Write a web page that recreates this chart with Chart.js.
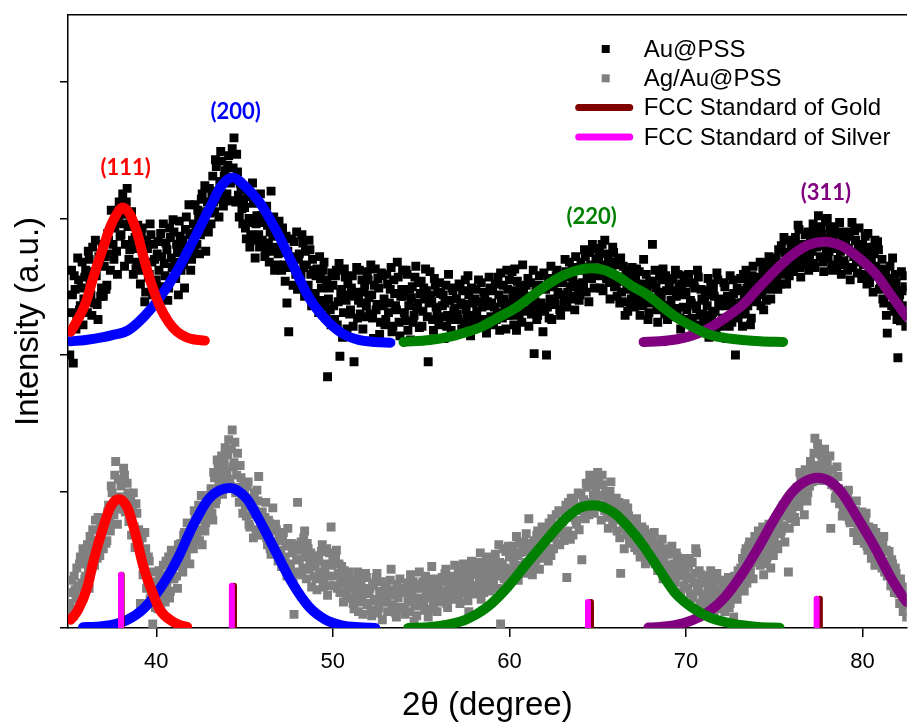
<!DOCTYPE html>
<html>
<head>
<meta charset="utf-8">
<title>XRD patterns of Au@PSS and Ag/Au@PSS</title>
<script src="https://cdn.jsdelivr.net/npm/chart.js@4.4.1/dist/chart.umd.min.js"></script>
<style>
  html, body { margin: 0; padding: 0; background: #ffffff; }
  canvas { display: block; }
</style>
</head>
<body>
<canvas id="xrd" width="913" height="726"></canvas>
<script>
// 2θ sampling of both diffractograms (degrees)
const thetaStart = 35.1;
const thetaStep = 0.05;

// Au@PSS intensity, one row per degree (a.u.)
const auPss = [
  200,231, 262,244, 194,258, 248,219, 226,271, 255,233, 236,249, 268,222, 241,257,
  262,240, 231,276, 270,253, 244,229, 279,261, 238,284, 258,237, 226,272, 266,243, 249,281,
  243,265, 272,248, 251,289, 284,274, 262,306, 295,281, 270,293, 301,276, 259,297, 312,287,
  288,303, 318,296, 265,281, 312,322, 294,270, 277,299, 305,284, 259,278, 286,263, 268,295,
  281,262, 252,287, 293,274, 266,239, 246,284, 278,257, 259,296, 288,268, 244,281, 270,251,
  255,274, 283,262, 241,289, 272,250, 296,267, 258,282, 277,240, 249,293, 286,271, 264,299,
  290,268, 256,281, 275,244, 298,287, 262,279, 284,266, 249,292, 301,276, 273,310, 288,262,
  270,289, 296,275, 310,293, 281,306, 302,274, 288,314, 318,291, 297,324, 276,305, 312,290,
  322,304, 296,318, 331,312, 305,343, 338,320, 314,301, 327,349, 342,318, 309,331, 335,313,
  318,339, 346,329, 326,313, 351,337, 359,328, 312,347, 334,317, 301,326, 322,307, 296,314,
  308,293, 285,321, 316,300, 279,288, 297,326, 311,284, 271,296, 302,313, 288,279, 318,302,
  284,297, 301,272, 276,309, 295,282, 268,290, 320,276, 287,301, 262,279, 291,266, 274,298,
  289,275, 262,293, 281,266, 254,287, 238,276, 217,264, 272,285, 267,251, 283,271, 259,290,
  248,270, 274,255, 259,288, 282,264, 243,276, 266,246, 251,284, 277,259, 236,270, 262,245,
  244,258, 263,238, 231,272, 256,249, 240,262, 268,235, 228,255, 184,241, 249,233, 222,260,
  251,236, 226,258, 262,222, 239,267, 199,245, 248,213, 231,263, 257,240, 219,252, 244,230,
  233,249, 258,221, 195,243, 246,264, 227,240, 262,230, 238,255, 219,246, 251,228, 236,261,
  255,242, 230,266, 244,227, 212,251, 263,233, 237,256, 249,215, 224,260, 258,236, 241,222,
  226,259, 252,231, 238,248, 264,217, 221,255, 245,236, 233,268, 257,224, 214,243, 248,262,
  243,231, 225,262, 259,218, 236,248, 211,242, 250,224, 229,257, 265,234, 238,253, 220,245,
  254,221, 232,249, 241,263, 247,228, 195,238, 261,244, 239,226, 218,256, 251,235, 230,246,
  222,253, 245,228, 236,244, 212,238, 251,221, 229,259, 240,226, 218,249, 247,232, 234,215,
  241,230, 226,252, 250,238, 219,247, 237,224, 255,233, 228,258, 244,221, 214,249, 238,226,
  229,241, 248,232, 221,255, 239,225, 253,235, 226,246, 243,220, 216,239, 236,257, 249,228,
  238,247, 222,235, 252,226, 231,257, 244,218, 260,238, 227,251, 241,232, 219,262, 248,229,
  255,238, 229,261, 242,222, 263,247, 218,254, 236,229, 250,241, 224,266, 246,232, 233,251,
  240,256, 221,243, 253,230, 236,262, 201,239, 247,226, 229,251, 258,234, 238,249, 217,260,
  232,248, 200,235, 256,227, 241,265, 226,253, 250,239, 237,258, 262,246, 244,233, 229,255,
  253,244, 238,270, 261,235, 246,257, 268,250, 241,263, 255,243, 233,272, 264,252, 249,240,
  244,268, 262,253, 251,277, 272,246, 257,264, 239,275, 266,256, 281,262, 249,278, 270,259,
  258,271, 276,249, 263,281, 247,266, 284,260, 256,274, 270,253, 241,268, 262,279, 275,250,
  266,252, 243,269, 257,238, 271,246, 239,265, 254,229, 262,248, 232,258, 250,237, 241,264,
  258,244, 235,256, 263,240, 246,261, 229,249, 252,236, 270,243, 238,259, 247,226, 231,254,
  252,239, 281,254, 238,262, 249,233, 224,246, 258,240, 241,255, 263,236, 230,258, 247,226,
  236,249, 255,240, 228,256, 247,234, 262,243, 233,259, 250,227, 219,252, 244,235, 258,246,
  246,233, 226,259, 253,240, 238,227, 218,252, 249,236, 234,262, 257,222, 229,248, 241,230,
  223,240, 247,229, 236,256, 213,244, 252,225, 231,249, 243,232, 219,260, 255,238, 236,221,
  241,225, 227,253, 250,236, 212,243, 237,221, 258,239, 224,255, 245,231, 200,238, 249,227,
  232,247, 256,238, 221,259, 244,230, 262,249, 236,255, 251,222, 227,258, 265,240, 243,252,
  239,253, 257,244, 268,236, 246,262, 233,255, 261,240, 250,267, 272,248, 241,264, 258,251,
  254,265, 271,257, 248,277, 266,252, 280,268, 259,286, 275,262, 252,274, 284,258, 263,279,
  278,266, 261,283, 286,272, 269,295, 292,264, 257,279, 281,268, 273,288, 266,280, 290,262,
  270,283, 285,276, 296,267, 264,291, 279,287, 302,280, 272,294, 288,268, 261,285, 298,277,
  300,271, 276,293, 289,266, 262,285, 294,278, 281,265, 270,290, 297,276, 259,288, 284,269,
  266,283, 290,262, 278,287, 255,275, 297,264, 272,291, 284,269, 260,281, 293,277, 268,256,
  281,266, 259,287, 275,252, 289,271, 253,279, 270,258, 246,274, 284,265, 262,283, 277,248,
  249,263, 270,241, 238,257, 262,229, 216,251, 256,265, 244,236, 271,247, 232,259, 253,226,
  198,239, 244,225, 261,247, 229,258, 250,221, 236
];

// Ag/Au@PSS intensity, same 2θ grid (a.u.)
const agAuPss = [
  18,26, 35,14, 9,38, 28,22, 44,31, 21,47, 52,29, 33,58, 47,36,
  38,52, 61,41, 29,67, 55,44, 72,58, 46,79, 64,51, 81,62, 53,75, 70,59,
  58,73, 79,62, 64,85, 90,77, 71,104, 99,87, 83,112, 122,94, 76,109, 96,88,
  104,96, 87,117, 112,85, 92,106, 99,78, 81,93, 68,88, 99,74, 59,91, 84,66,
  72,61, 18,53, 66,39, 44,70, 58,29, 35,52, 49,21, 27,41, 3,34, 22,15,
  31,24, 14,42, 38,17, 25,35, 46,28, 19,49, 33,39, 52,22, 27,57, 44,36,
  36,50, 55,38, 29,61, 48,57, 62,45, 41,68, 70,51, 53,77, 66,58, 47,73,
  74,63, 58,86, 81,70, 66,79, 90,64, 72,97, 61,83, 85,71, 77,92, 95,80,
  88,97, 102,84, 79,114, 110,91, 94,123, 118,105, 101,114, 126,98, 108,121, 132,113,
  115,127, 138,109, 104,131, 145,118, 121,136, 99,112, 128,103, 92,119, 110,96, 84,105,
  98,89, 82,104, 107,76, 74,95, 91,83, 66,99, 86,72, 101,93, 111,84, 79,68,
  85,74, 68,81, 92,66, 61,79, 77,58, 54,71, 88,60, 63,76, 72,57, 49,67,
  64,56, 45,67, 70,48, 52,60, 38,73, 61,43, 47,62, 55,36, 10,58, 41,50,
  92,61, 50,57, 63,39, 44,66, 71,52, 36,62, 58,43, 48,55, 30,47, 53,38,
  45,36, 28,49, 52,41, 39,56, 61,30, 33,44, 47,58, 24,38, 55,31, 74,46,
  49,38, 31,52, 57,29, 40,47, 26,35, 45,33, 19,42, 36,24, 28,37, 41,22,
  22,30, 35,18, 14,33, 28,23, 41,12, 19,36, 31,21, 10,29, 26,40, 37,17,
  18,25, 29,13, 9,31, 33,20, 21,37, 40,11, 15,26, 27,34, 6,19, 24,30,
  31,19, 12,27, 25,35, 43,16, 17,24, 28,11, 8,32, 22,29, 36,15, 14,26,
  26,15, 10,28, 33,21, 19,12, 39,27, 23,34, 5,18, 29,9, 16,32, 41,22,
  21,29, 34,17, 13,38, 27,22, 8,33, 31,14, 45,26, 18,36, 25,20, 12,31,
  30,23, 19,34, 37,27, 24,40, 43,18, 15,32, 28,38, 35,21, 22,33, 46,26,
  27,36, 41,22, 18,39, 33,28, 47,35, 26,42, 38,20, 12,34, 31,49, 44,25,
  39,31, 25,44, 48,29, 34,55, 21,38, 43,26, 30,47, 52,35, 36,42, 27,50,
  45,37, 33,51, 54,42, 38,29, 61,48, 3,40, 47,58, 36,44, 56,35, 42,60,
  52,43, 38,57, 60,49, 44,36, 67,53, 35,62, 55,46, 41,58, 63,40, 48,69,
  45,56, 80,49, 58,62, 39,53, 64,44, 50,68, 71,55, 43,61, 57,74, 66,51,
  55,64, 72,58, 49,77, 66,53, 80,70, 58,67, 74,83, 62,71, 86,61, 69,78,
  78,70, 64,85, 90,37, 71,92, 83,65, 95,81, 68,93, 88,79, 76,87, 99,72,
  86,98, 50,89, 94,82, 80,106, 103,90, 83,112, 92,88, 110,97, 84,105, 101,93,
  114,108, 90,97, 79,112, 105,88, 86,99, 95,81, 73,94, 100,107, 82,76, 91,89,
  84,95, 71,79, 92,66, 40,86, 80,73, 58,91, 74,68, 88,82, 62,78, 76,70,
  71,64, 59,76, 80,57, 66,70, 52,63, 74,58, 61,72, 47,66, 69,51, 55,62,
  63,54, 49,66, 70,47, 56,60, 42,53, 61,44, 50,65, 36,52, 58,41, 45,57,
  54,46, 40,57, 60,43, 47,36, 33,55, 52,42, 38,49, 26,39, 45,51, 31,40,
  44,37, 29,46, 51,25, 36,48, 22,33, 40,58, 55,27, 31,42, 18,39, 34,24,
  25,33, 38,22, 16,29, 30,37, 42,24, 20,31, 9,19, 27,40, 35,21, 14,28,
  22,28, 31,17, 12,35, 26,24, 37,15, 18,30, 29,23, 8,38, 33,26, 21,42,
  35,40, 44,31, 51,46, 27,55, 58,33, 39,60, 63,42, 48,54, 36,61, 67,49,
  55,63, 71,50, 46,58, 62,74, 39,56, 68,47, 52,65, 76,59, 44,70, 60,53,
  66,72, 79,61, 58,77, 84,69, 71,88, 90,75, 63,82, 86,94, 41,73, 80,87,
  85,92, 96,81, 78,100, 103,95, 89,114, 110,98, 94,104, 83,116, 106,93, 99,112,
  104,122, 118,107, 110,128, 139,116, 112,135, 131,119, 108,127, 125,113, 120,131, 114,109,
  122,113, 108,126, 73,105, 116,109, 104,95, 97,118, 111,102, 91,94, 100,82, 86,97,
  95,88, 82,97, 101,79, 77,92, 90,84, 70,78, 86,93, 64,73, 81,68, 74,85,
  76,68, 62,79, 84,60, 57,74, 69,63, 51,66, 73,58, 46,70, 65,52, 55,61,
  60,52, 44,63, 67,41, 49,57, 38,46, 56,42, 31,50, 47,35, 26,44, 40,30,
  33,25, 18,36, 29,21, 12,17, 24,30, 8
];

// Gaussian peak fits, [2θ, intensity]
const fitAu111 = [[35.15,217],[35.6,227],[36.0,238],[36.46,258],[37.0,279],[37.4,294],[37.75,303],[38.09,308],[38.5,303],[38.9,290],[39.27,272],[39.7,253],[40.22,235],[40.7,224],[41.18,217],[41.7,213],[42.08,211.5],[42.75,210.5]];
const fitAu200 = [[35.15,210],[36.0,211],[37.0,213],[37.5,214.5],[38.4,218],[39.3,228],[40.2,242],[41.2,262],[42.1,284],[43.0,307],[43.7,324],[44.33,330],[45.0,324],[45.84,312],[46.8,291],[47.7,267],[48.65,242],[49.6,226],[50.5,216],[51.46,211],[52.4,209.5],[53.26,209]];
const fitAu220 = [[54.0,209.5],[55.5,211],[56.5,213],[57.5,216.5],[58.4,220.5],[59.3,227],[60.3,234],[61.2,242.5],[62.1,251],[63.1,258.5],[64.0,262.5],[64.7,263.5],[65.4,262],[66.2,257],[67.0,250],[67.7,245],[68.5,237],[69.4,228],[70.4,220.5],[71.3,215],[72.2,212.5],[73.2,211],[74.2,210],[75.5,209.5]];
const fitAu311 = [[67.6,209.5],[68.5,210],[69.5,211.5],[70.4,214.5],[71.3,219.5],[72.2,227],[73.2,236.5],[74.1,249],[75.06,262],[76.0,273],[76.9,280.5],[77.87,283],[78.8,280],[79.7,272],[80.7,260],[81.6,244],[82.5,228],[83.2,216]];

const fitAgAu111 = [[35.15,6],[35.56,13],[36.1,30],[36.46,50],[37.0,74],[37.4,88.5],[37.87,94.5],[38.37,88],[38.8,70],[39.27,45],[39.8,25.5],[40.22,13],[40.96,4.5],[41.4,1.8],[41.75,0.8]];
const fitAgAu200 = [[35.85,0.5],[36.6,1],[37.4,2],[38.37,6],[39.27,14],[40.22,29],[41.18,50],[42.08,75],[43.0,95],[44.16,102.5],[45.1,95],[45.84,79],[46.8,55],[47.7,33],[48.65,15.5],[49.6,6],[50.5,2],[51.5,0.5],[52.4,0]];
const fitAgAu220 = [[54.27,0],[55.56,0.7],[56.5,2.5],[57.5,6],[58.76,15.5],[59.9,30],[61.0,47.5],[62.1,64.5],[63.1,79],[64.0,88],[64.8,90],[65.9,84.5],[66.8,73],[67.6,60],[68.5,42.5],[69.4,25.5],[70.4,14.5],[71.3,8],[72.2,4.4],[73.2,2],[74.1,0.7],[75.3,0.2]];
const fitAgAu311 = [[67.87,0.3],[68.5,0.7],[69.5,2.5],[70.4,6],[71.3,12],[72.2,22.5],[73.2,40],[74.1,59],[75.06,81],[76.0,99.5],[76.7,107],[77.45,110],[78.2,107],[78.8,99.5],[79.7,81],[80.7,59],[81.6,37],[82.5,19],[83.2,9]];

// FCC reference reflections (2θ and relative stick height)
const goldPeaks = [38.04, 44.40, 64.62, 77.58];
const goldHeights = [39, 31, 19, 21.5];
const silverPeaks = [38.0, 44.28, 64.45, 77.40];
const silverHeights = [39, 31, 19, 21.5];

// Miller indices written above the Au@PSS reflections
const peakLabels = ['(111)', '(200)', '(220)', '(311)'];
const peakColors = ['#ff0000', '#0000ff', '#008000', '#800080'];
const peakLabelAnchors = [[38.26, 337], [44.49, 378], [64.66, 301], [77.92, 319]];

// Axes
const xTicks = [40, 50, 60, 70, 80];
const yTicks = [0, 100, 200, 300, 400];
const xRange = [35, 82.5];
const yRange = [0, 449];

const SANS = '"Liberation Sans", Arial, Helvetica, sans-serif';
Chart.defaults.font.family = SANS;
Chart.defaults.color = '#000';

const toPoints = (values) => values.map((v, i) => ({ x: +(thetaStart + i * thetaStep).toFixed(2), y: v }));
const pairPoints = (pairs) => pairs.map(([x, y]) => ({ x, y }));
const stickPoints = (pos, h) => pos.flatMap((p, i) => [{ x: p, y: 0 }, { x: p, y: h[i] }, { x: p, y: null }]);

const scatterSet = (label, values, color) => ({
  label, data: toPoints(values), order: 3,
  pointStyle: 'rect', pointRadius: 6.3, pointBorderWidth: 0,
  backgroundColor: color, borderColor: color, showLine: false,
  legendKind: 'marker'
});
const fitSet = (pairs, color) => ({
  label: '', data: pairPoints(pairs), order: 2, showLine: true,
  pointRadius: 0, borderWidth: 10, borderColor: color, backgroundColor: color,
  cubicInterpolationMode: 'monotone', borderCapStyle: 'round', borderJoinStyle: 'round', fill: false
});
const stickSet = (label, pos, h, color, order) => ({
  label, data: stickPoints(pos, h), order, showLine: true, spanGaps: false,
  pointRadius: 0, borderWidth: 6, borderColor: color, backgroundColor: color,
  borderCapStyle: 'round', fill: false, legendKind: 'line'
});

const datasets = [
  scatterSet('Au@PSS', auPss, '#000000'),
  scatterSet('Ag/Au@PSS', agAuPss, '#808080'),
  stickSet('FCC Standard of Gold', goldPeaks, goldHeights, '#800000', 1),
  stickSet('FCC Standard of Silver', silverPeaks, silverHeights, '#ff00ff', 0),
  fitSet(fitAu111, peakColors[0]),
  fitSet(fitAu200, peakColors[1]),
  fitSet(fitAu220, peakColors[2]),
  fitSet(fitAu311, peakColors[3]),
  fitSet(fitAgAu111, peakColors[0]),
  fitSet(fitAgAu200, peakColors[1]),
  fitSet(fitAgAu220, peakColors[2]),
  fitSet(fitAgAu311, peakColors[3])
];

// hkl annotations placed in data coordinates
const peakLabelPlugin = {
  id: 'peakLabels',
  afterDatasetsDraw(chart) {
    const { ctx, scales: { x, y } } = chart;
    ctx.save();
    ctx.font = 'bold 22px Lato, "Open Sans", sans-serif';
    ctx.textAlign = 'center';
    ctx.textBaseline = 'middle';
    peakLabels.forEach((text, i) => {
      const [vx, vy] = peakLabelAnchors[i];
      ctx.fillStyle = peakColors[i];
      ctx.fillText(text, x.getPixelForValue(vx), y.getPixelForValue(vy));
    });
    ctx.restore();
  }
};

// legend inside the upper-right corner of the plot
const insideLegendPlugin = {
  id: 'insideLegend',
  afterDraw(chart) {
    const { ctx, chartArea } = chart;
    const entries = chart.data.datasets.filter(d => d.legendKind);
    const markerX = chartArea.right - 301;
    const lineX1 = chartArea.right - 328;
    const lineX2 = chartArea.right - 277;
    const textX = chartArea.right - 263;
    ctx.save();
    ctx.font = '24px ' + SANS;
    ctx.textAlign = 'left';
    ctx.textBaseline = 'middle';
    entries.forEach((d, i) => {
      const rowY = chartArea.top + 34 + i * 29.3;
      if (d.legendKind === 'marker') {
        ctx.fillStyle = d.backgroundColor;
        ctx.fillRect(markerX - 4, rowY - 4, 8, 8);
      } else {
        ctx.strokeStyle = d.borderColor;
        ctx.lineWidth = 7;
        ctx.lineCap = 'round';
        ctx.beginPath();
        ctx.moveTo(lineX1, rowY);
        ctx.lineTo(lineX2, rowY);
        ctx.stroke();
      }
      ctx.fillStyle = '#000';
      ctx.fillText(d.label, textX, rowY + 1);
    });
    ctx.restore();
  }
};

const axisLine = { display: true, color: '#000', width: 1.5 };
const tickMarks = (len) => ({ display: true, drawOnChartArea: false, drawTicks: true, tickLength: len, color: '#000', lineWidth: 1.5 });

new Chart(document.getElementById('xrd'), {
  type: 'scatter',
  data: { datasets },
  options: {
    responsive: false,
    animation: false,
    devicePixelRatio: 1,
    events: [],
    layout: { padding: 0 },
    plugins: { legend: { display: false }, tooltip: { enabled: false } },
    scales: {
      x: {
        type: 'linear', position: 'bottom', min: xRange[0], max: xRange[1],
        afterBuildTicks: (s) => { s.ticks = xTicks.map(v => ({ value: v })); },
        afterFit: (s) => { s.height = 98; },
        grid: tickMarks(9),
        border: axisLine,
        ticks: { color: '#000', padding: 12, font: { size: 22 }, callback: (v) => String(v) },
        title: { display: true, text: '2θ (degree)', color: '#000', font: { size: 33 }, padding: { top: 0, bottom: 0 } }
      },
      xTop: {
        type: 'linear', position: 'top', min: xRange[0], max: xRange[1],
        afterBuildTicks: (s) => { s.ticks = []; },
        afterFit: (s) => { s.height = 15; },
        grid: { display: false, drawTicks: false },
        border: axisLine,
        ticks: { display: false }
      },
      y: {
        type: 'linear', position: 'left', min: yRange[0], max: yRange[1],
        afterBuildTicks: (s) => { s.ticks = yTicks.map(v => ({ value: v })); },
        afterFit: (s) => { s.width = 68; },
        grid: tickMarks(8),
        border: axisLine,
        ticks: { display: false },
        title: { display: true, text: 'Intensity (a.u.)', color: '#000', font: { size: 33 }, padding: { top: 9, bottom: 0 } }
      }
    }
  },
  plugins: [peakLabelPlugin, insideLegendPlugin]
});
</script>
</body>
</html>
